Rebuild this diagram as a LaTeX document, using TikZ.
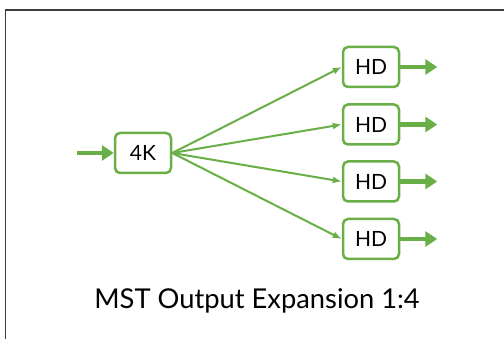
\documentclass[tikz,border=0pt]{standalone}
\usepackage{fontspec}
\setmainfont{Lato}
\usetikzlibrary{arrows.meta}
\definecolor{grn}{RGB}{106,174,72}
\definecolor{frm}{RGB}{60,60,60}
\begin{document}
\begin{tikzpicture}[x=1pt,y=-1pt,
  box/.style={draw=grn,line width=2.5pt,rounded corners=5pt,fill=white,minimum width=56pt,minimum height=40pt,inner sep=0pt,font=\fontsize{21}{21}\selectfont},
  thin/.style={draw=grn,line width=2pt,-{Latex[length=9pt,width=7pt]}},
  thick/.style={draw=grn,line width=4.5pt,-{Triangle[length=12pt,width=15pt]}}]
\useasboundingbox (0,0) rectangle (504,339);
\draw[frm,line width=1.5pt] (5.5,345) -- (5.5,10) -- (510,10);
\node[box] (k) at (143,153) {4K};
\node[box] (h1) at (371,67) {HD};
\node[box] (h2) at (371,124.5) {HD};
\node[box] (h3) at (371,181.5) {HD};
\node[box] (h4) at (371,239) {HD};
\coordinate (in) at (77,153);
\draw[thick] (in) -- (k.west);
\foreach \i in {1,2,3,4}{
  \coordinate (o\i) at ([xshift=37pt]h\i.east);
  \draw[thick] (h\i.east) -- (o\i);
  \draw[thin] (k.east) -- (h\i.west);
}
\node[font=\fontsize{27.3}{27.3}\selectfont] (cap) at (257,301) {MST Output Expansion 1:4};
\end{tikzpicture}
\end{document}
